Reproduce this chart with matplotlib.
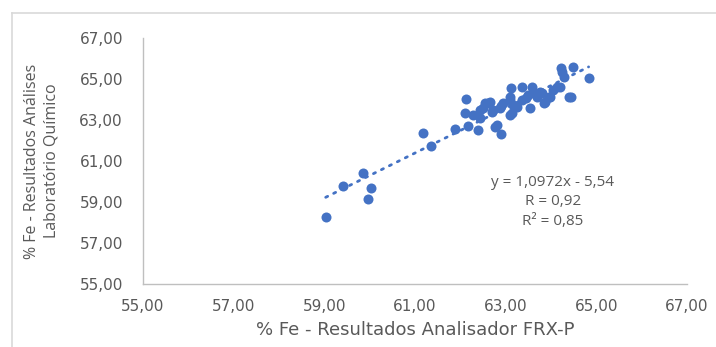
import numpy as np
import matplotlib
matplotlib.use('Agg')
import matplotlib.pyplot as plt
from matplotlib.lines import Line2D
from matplotlib.ticker import FuncFormatter

# % Fe - analyser (x) vs laboratory (y)
fe_frx = [59.03, 59.41, 59.85, 60.02, 59.97, 61.17, 61.35, 61.89, 62.12, 62.11,
          62.29, 62.44, 62.40, 62.18, 62.55, 62.66, 62.51, 62.62, 62.69, 62.73,
          62.77, 62.81, 62.90, 62.88, 62.95, 63.10, 63.10, 63.12, 63.13, 63.17,
          63.24, 63.36, 63.36, 63.54, 63.58, 63.50, 63.62, 63.69, 63.76, 63.80,
          63.84, 63.87, 63.95, 63.98, 64.13, 64.20, 64.24, 64.22, 64.28, 64.39,
          64.44, 64.49, 64.83, 63.10, 62.44, 62.90, 63.45, 64.05]
fe_lab = [58.28, 59.80, 60.40, 59.68, 59.15, 62.35, 61.75, 62.56, 64.01, 63.33,
          63.24, 63.08, 62.51, 62.70, 63.81, 63.89, 63.57, 63.85, 63.41, 63.49,
          62.67, 62.76, 62.30, 63.57, 63.81, 64.14, 63.98, 64.58, 63.33, 63.73,
          63.65, 64.62, 63.98, 63.57, 64.62, 64.22, 64.33, 64.14, 64.38, 64.30,
          63.81, 63.89, 64.14, 64.14, 64.62, 64.60, 65.35, 65.52, 65.11, 64.14,
          64.11, 65.57, 65.04, 63.24, 63.49, 63.70, 64.05, 64.45]

slope = 1.0972
intercept = -5.54
eq_lines = ['y = 1,0972x - 5,54', 'R = 0,92', 'R² = 0,85']

ticks = [55, 57, 59, 61, 63, 65, 67]

blue = '#4472C4'
gray = '#595959'
plt.rcParams['font.family'] = ['Open Sans', 'DejaVu Sans']

fig = plt.figure(figsize=(7.16, 3.47), dpi=100)
ax = fig.add_axes([0.1997, 0.1816, 0.7598, 0.7089])

ax.scatter(fe_frx, fe_lab, s=52, color=blue, zorder=3, linewidths=0)

xs = np.array([min(fe_frx), max(fe_frx)])
ax.plot(xs, slope * xs + intercept, color=blue, linestyle=(0, (0.8, 2.4)),
        linewidth=2.0, dash_capstyle='round', zorder=2)

ax.set_xlim(55, 67)
ax.set_ylim(55, 67)
ax.set_xticks(ticks)
ax.set_yticks(ticks)
fmt = FuncFormatter(lambda v, p: f'{v:.2f}'.replace('.', ','))
ax.xaxis.set_major_formatter(fmt)
ax.yaxis.set_major_formatter(fmt)
ax.tick_params(length=0, labelcolor=gray, pad=11)
ax.tick_params(axis='y', pad=14.4)
for lab in ax.get_xticklabels() + ax.get_yticklabels():
    lab.set_family('DejaVu Sans')
    lab.set_fontsize(11)

for s in ['top', 'right']:
    ax.spines[s].set_visible(False)
for s in ['left', 'bottom']:
    ax.spines[s].set_color('#BFBFBF')
    ax.spines[s].set_linewidth(1)

ax.set_xlabel('% Fe - Resultados Analisador FRX-P', fontsize=13, color=gray, labelpad=5,
              family='DejaVu Sans')
fig.text(0.058, 0.536, '% Fe - Resultados Análises\nLaboratório Químico', rotation=90,
         ha='center', va='center', fontsize=11.5, color=gray, multialignment='center',
         linespacing=1.25)

ax.text(0.7535, 0.445, '\n'.join(eq_lines), transform=ax.transAxes, ha='center', va='top',
        fontsize=11, color=gray, linespacing=1.45, multialignment='center')

# chart border (top and left visible)
fig.add_artist(Line2D([12 / 716, 12 / 716], [0, 1 - 13 / 347], color='#D9D9D9', lw=1.2))
fig.add_artist(Line2D([12 / 716, 1], [1 - 13 / 347, 1 - 13 / 347], color='#D9D9D9', lw=1.2))

fig.savefig('out.png', dpi=100, facecolor='white')
